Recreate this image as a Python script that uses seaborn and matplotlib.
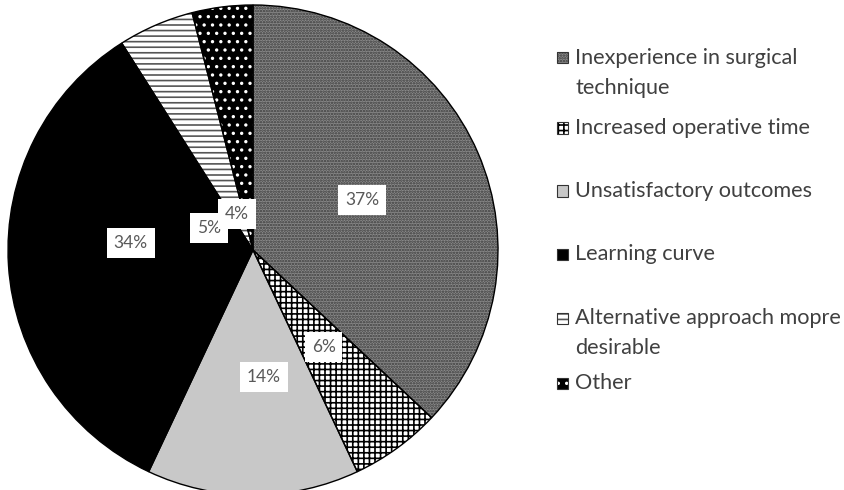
import numpy as np
import matplotlib.pyplot as plt
from matplotlib.patches import Rectangle
import seaborn as sns

sns.set_theme(style="white")
plt.rcParams['font.family'] = ['Lato', 'DejaVu Sans']
plt.rcParams['hatch.linewidth'] = 1.2

# data
reasons = ['Inexperience in surgical technique', 'Increased operative time',
           'Unsatisfactory outcomes', 'Learning curve',
           'Alternative approach mopre desirable', 'Other']
legend_lines = [['Inexperience in surgical', 'technique'], ['Increased operative time'],
                ['Unsatisfactory outcomes'], ['Learning curve'],
                ['Alternative approach mopre', 'desirable'], ['Other']]
shares = [37, 6, 14, 34, 5, 4]

# styling per slice
faces = ['#8a8a8a', 'white', '#c8c8c8', 'black', 'white', 'black']
hatches = ['......', '+++', None, None, '---', '..']
hatch_cols = ['#3a3a3a', 'black', '#c8c8c8', 'black', '#555555', 'white']
pct_dist = [0.49, 0.49, 0.52, 0.50, 0.20, 0.16]
angle_shift = [1, 0, 5, -7, 40, 17]

fig = plt.figure(figsize=(8.45, 4.9), dpi=100)
ax = fig.add_axes([0.00947, -0.0102, 0.5799, 1.0])

wedges, _ = ax.pie(shares, startangle=90, counterclock=False, radius=1,
                   wedgeprops=dict(linewidth=0))
for w, fc, h, hc in zip(wedges, faces, hatches, hatch_cols):
    w.set_facecolor(fc)
    w.set_edgecolor(hc)
    w.set_linewidth(0)
    if h:
        w.set_hatch(h)

# outlines on top
outline, _ = ax.pie(shares, startangle=90, counterclock=False, radius=1,
                    wedgeprops=dict(facecolor='none', edgecolor='black', linewidth=1.0))

# percentage labels
for w, s, d, sh in zip(wedges, shares, pct_dist, angle_shift):
    mid = np.deg2rad((w.theta1 + w.theta2) / 2 + sh)
    ax.text(d * np.cos(mid), d * np.sin(mid), f'{s}%', ha='center', va='center',
            fontsize=12.5, color='#595959',
            bbox=dict(facecolor='white', edgecolor='none', pad=5))

ax.set_xlim(-1, 1)
ax.set_ylim(-1, 1)
ax.set_aspect('equal')
ax.axis('off')

# legend, drawn by hand so the marker sits at the first line
row_y = [58, 128, 191, 254, 318, 383]
W, H = 845, 490
sq = 11
for lines, y, fc, h, hc in zip(legend_lines, row_y, faces, hatches, hatch_cols):
    fig.add_artist(Rectangle((557 / W, (H - y - sq / 2) / H), sq / W, sq / H,
                             transform=fig.transFigure, facecolor=fc, hatch=h,
                             edgecolor=hc, linewidth=0))
    fig.add_artist(Rectangle((557 / W, (H - y - sq / 2) / H), sq / W, sq / H,
                             transform=fig.transFigure, facecolor='none',
                             edgecolor='#333333', linewidth=0.8))
    for i, line in enumerate(lines):
        fig.text(575 / W, (H - y - 30 * i) / H, line, ha='left', va='center',
                 fontsize=15.6, color='#404040')

fig.savefig('out.png', dpi=100)
